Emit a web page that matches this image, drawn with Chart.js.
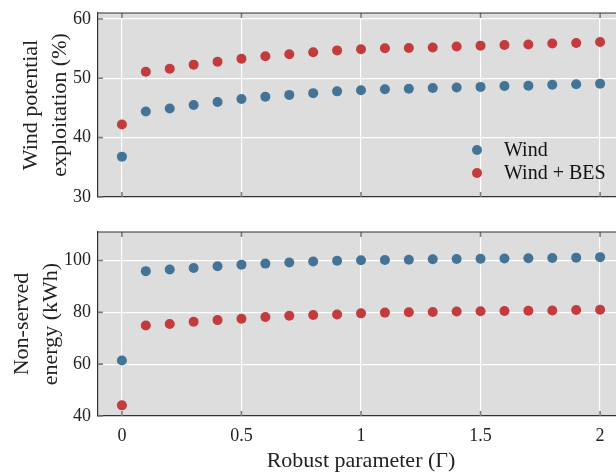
<!DOCTYPE html>
<html>
<head>
<meta charset="utf-8">
<script src="https://cdn.jsdelivr.net/npm/chart.js@4"></script>
<style>
  html, body { margin: 0; padding: 0; background: #fff; overflow: hidden; }
  body { width: 616px; height: 473px; position: relative; }
  canvas { position: absolute; left: 0; }
  #topChart { top: 0; }
  #bottomChart { top: 218px; }
</style>
</head>
<body>
<canvas id="topChart" width="640" height="210"></canvas>
<canvas id="bottomChart" width="640" height="255"></canvas>
<script>
// Robust parameter Gamma
const gammaValues = [0, 0.1, 0.2, 0.3, 0.4, 0.5, 0.6, 0.7, 0.8, 0.9, 1.0,
                     1.1, 1.2, 1.3, 1.4, 1.5, 1.6, 1.7, 1.8, 1.9, 2.0];

// Wind potential exploitation (%)
const windExploit    = [36.8, 44.4, 44.9, 45.5, 46.0, 46.5, 46.9, 47.2, 47.5, 47.8, 48.0,
                        48.15, 48.25, 48.35, 48.45, 48.55, 48.7, 48.75, 48.9, 49.0, 49.1];
const windBesExploit = [42.2, 51.1, 51.6, 52.3, 52.8, 53.3, 53.7, 54.05, 54.4, 54.7, 54.9,
                        55.05, 55.1, 55.2, 55.35, 55.5, 55.6, 55.7, 55.85, 55.95, 56.1];

// Non-served energy (kWh)
const windNse    = [61.4, 95.9, 96.5, 97.1, 97.8, 98.4, 98.8, 99.2, 99.6, 99.9, 100.1,
                    100.2, 100.3, 100.5, 100.6, 100.7, 100.8, 100.9, 101.0, 101.1, 101.3];
const windBesNse = [44.1, 74.9, 75.5, 76.4, 77.0, 77.5, 78.2, 78.7, 79.0, 79.2, 79.6,
                    79.9, 80.0, 80.1, 80.3, 80.4, 80.5, 80.6, 80.7, 80.9, 81.0];

const seriesLabels = ["Wind", "Wind + BES"];
const xTicks = [0, 0.5, 1, 1.5, 2];
const xTickLabels = ["0", "0.5", "1", "1.5", "2"];
const topYTicks = [30, 40, 50, 60];
const bottomYTicks = [40, 60, 80, 100];

const BLUE = "#447398";
const RED = "#c43b3d";
const FONT = "'Liberation Serif', 'Times New Roman', serif";

function toPoints(values) {
  return gammaValues.map((g, i) => ({ x: g, y: values[i] }));
}

function fixedTicks(list) {
  return scale => { scale.ticks = list.map(v => ({ value: v })); };
}

// grey panel, frame on top and inward tick marks like matplotlib
const panelPlugin = {
  id: "panel",
  beforeDraw(chart) {
    const { ctx, chartArea: a } = chart;
    ctx.save();
    ctx.fillStyle = "#dddddd";
    ctx.fillRect(a.left, a.top, a.right - a.left, a.bottom - a.top);
    ctx.restore();
  },
  beforeDatasetsDraw(chart) {
    const { ctx, chartArea: a, scales } = chart;
    ctx.save();
    ctx.strokeStyle = "#7a7a7a";
    ctx.lineWidth = 1.6;
    ctx.beginPath();
    scales.x.ticks.forEach(t => {
      const px = scales.x.getPixelForValue(t.value);
      ctx.moveTo(px, a.bottom); ctx.lineTo(px, a.bottom - 5);
      ctx.moveTo(px, a.top); ctx.lineTo(px, a.top + 5);
    });
    scales.y.ticks.forEach(t => {
      const py = scales.y.getPixelForValue(t.value);
      ctx.moveTo(a.left, py); ctx.lineTo(a.left + 5, py);
    });
    ctx.stroke();
    ctx.strokeStyle = "#333";
    ctx.lineWidth = 1.2;
    ctx.beginPath();
    ctx.moveTo(a.left, a.top); ctx.lineTo(a.right, a.top);
    ctx.stroke();
    ctx.restore();
  }
};

// legend drawn inside the top panel
const legendPlugin = {
  id: "innerLegend",
  afterDatasetsDraw(chart) {
    const { ctx } = chart;
    ctx.save();
    ctx.font = "20px " + FONT;
    ctx.textBaseline = "middle";
    chart.data.datasets.forEach((ds, i) => {
      const y = 150 + i * 23;
      ctx.fillStyle = ds.backgroundColor;
      ctx.beginPath();
      ctx.arc(477, y, 5, 0, Math.PI * 2);
      ctx.fill();
      ctx.fillStyle = "#111";
      ctx.fillText(ds.label, 504, y + 1);
    });
    ctx.restore();
  }
};

function makeChart(id, a, b, yTicks, yMin, yMax, yTitle, yTitlePad, showX, pad) {
  return new Chart(document.getElementById(id), {
    type: "scatter",
    data: {
      datasets: [
        { label: seriesLabels[0], data: toPoints(a), backgroundColor: BLUE, borderWidth: 0, pointRadius: 5, pointHoverRadius: 5 },
        { label: seriesLabels[1], data: toPoints(b), backgroundColor: RED, borderWidth: 0, pointRadius: 5, pointHoverRadius: 5 }
      ]
    },
    options: {
      responsive: false,
      animation: false,
      layout: { padding: pad },
      plugins: { legend: { display: false }, tooltip: { enabled: false } },
      scales: {
        x: {
          type: "linear",
          min: -0.1,
          max: 2.1,
          afterBuildTicks: fixedTicks(xTicks),
          afterFit: scale => {
            scale.height = showX ? 57 : 0;
            scale.paddingLeft = 0; scale.paddingRight = 0;
          },
          grid: { color: "#ffffff", lineWidth: 1.2, drawTicks: false },
          border: { display: true, color: "#333", width: 1.2 },
          ticks: {
            display: showX,
            padding: 9,
            color: "#222",
            font: { family: FONT, size: 18 },
            callback: (v, i) => xTickLabels[i]
          },
          title: {
            display: showX,
            text: "Robust parameter (\u0393)",
            color: "#222",
            font: { family: FONT, size: 22, lineHeight: 1.0 },
            padding: { top: 0, bottom: 1 }
          }
        },
        y: {
          min: yMin,
          max: yMax,
          afterBuildTicks: fixedTicks(yTicks),
          afterFit: scale => {
            scale.width = 98;
            scale.paddingTop = 0; scale.paddingBottom = 0;
          },
          grid: { color: "#ffffff", lineWidth: 1.2, drawTicks: false },
          border: { display: true, color: "#333", width: 1.2 },
          ticks: {
            padding: 7,
            color: "#222",
            font: { family: FONT, size: 18 }
          },
          title: {
            display: true,
            text: yTitle,
            color: "#222",
            font: { family: FONT, size: 22, lineHeight: 1.3 },
            padding: { top: yTitlePad, bottom: 0 }
          }
        }
      }
    },
    plugins: showX ? [panelPlugin] : [panelPlugin, legendPlugin]
  });
}

makeChart("topChart", windExploit, windBesExploit, topYTicks, 30, 61,
  ["Wind potential", "exploitation (%)"], 17, false,
  { top: 13, bottom: 13, left: 0, right: 16 });

makeChart("bottomChart", windNse, windBesNse, bottomYTicks, 40, 111,
  ["Non-served", "energy (kWh)"], 8, true,
  { top: 14, bottom: 0, left: 0, right: 16 });
</script>
</body>
</html>
